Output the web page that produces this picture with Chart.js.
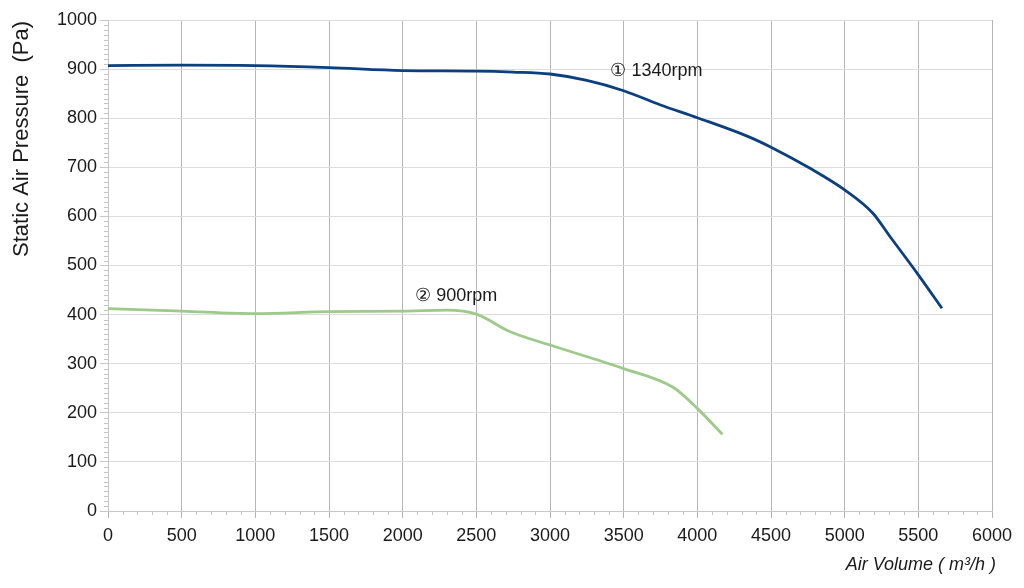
<!DOCTYPE html>
<html>
<head>
<meta charset="utf-8">
<script src="https://cdn.jsdelivr.net/npm/chart.js@4"></script>
<style>
  html, body { margin: 0; padding: 0; background: #fff; }
  #wrap { width: 1024px; height: 588px; }
</style>
</head>
<body>
<div id="wrap"><canvas id="fanChart" width="1024" height="588"></canvas></div>
<script>
// =====================
// DATA
// =====================
const xTicks = [0, 500, 1000, 1500, 2000, 2500, 3000, 3500, 4000, 4500, 5000, 5500, 6000];
const yTicks = [0, 100, 200, 300, 400, 500, 600, 700, 800, 900, 1000];

const flow1340 = [0, 500, 1000, 1500, 2000, 2500, 2750, 3000, 3250, 3500, 3750, 4000, 4350, 4500, 4765, 5000, 5190, 5310, 5500, 5660];
const pres1340 = [907, 908, 907, 903, 897, 896, 894, 890, 877, 856, 827, 801, 762, 741, 698, 654, 607, 558, 481, 413];

const flow900 = [0, 500, 1000, 1500, 2000, 2300, 2500, 2730, 3000, 3500, 3835, 4000, 4170];
const pres900 = [412, 407, 402, 406, 407, 409, 401, 365, 338, 290, 252, 209, 156];

const labels = [
  { text: "\u2460 1340rpm", x: 3410, y: 896 },
  { text: "\u2461 900rpm", x: 2085, y: 438 }
];

const FONT = "'Liberation Sans', Arial, sans-serif";

function toPoints(xs, ys) {
  return xs.map((x, i) => ({ x: x, y: ys[i] }));
}

// =====================
// EXTRAS: minor ticks, curve labels, axis titles
// =====================
const extras = {
  id: "extras",
  afterDraw(chart) {
    const ctx = chart.ctx;
    const xs = chart.scales.x;
    const ys = chart.scales.y;
    const area = chart.chartArea;

    ctx.save();
    ctx.strokeStyle = "#c4c4c4";
    ctx.lineWidth = 1;
    // x minor ticks every 100
    for (let v = 100; v < 6000; v += 100) {
      if (v % 500 === 0) continue;
      const px = Math.round(xs.getPixelForValue(v)) + 0.5;
      ctx.beginPath();
      ctx.moveTo(px, area.bottom);
      ctx.lineTo(px, area.bottom + 4);
      ctx.stroke();
    }
    // y minor ticks every 10
    for (let v = 10; v < 1000; v += 10) {
      if (v % 100 === 0) continue;
      const py = Math.round(ys.getPixelForValue(v)) + 0.5;
      ctx.beginPath();
      ctx.moveTo(area.left - 4, py);
      ctx.lineTo(area.left, py);
      ctx.stroke();
    }

    // curve labels
    ctx.fillStyle = "#1a1a1a";
    ctx.font = "18px " + FONT;
    ctx.textBaseline = "middle";
    ctx.textAlign = "left";
    labels.forEach(l => {
      ctx.fillText(l.text, xs.getPixelForValue(l.x), ys.getPixelForValue(l.y));
    });

    // y title
    ctx.save();
    ctx.translate(22, 139);
    ctx.rotate(-Math.PI / 2);
    ctx.textAlign = "center";
    ctx.font = "22px " + FONT;
    ctx.fillText("Static Air Pressure  (Pa)", 0, 0);
    ctx.restore();

    // x title
    ctx.textAlign = "right";
    ctx.font = "italic 18px " + FONT;
    ctx.fillText("Air Volume ( m\u00b3/h )", 996, 565);
    ctx.restore();
  }
};

// =====================
// CHART
// =====================
new Chart(document.getElementById("fanChart"), {
  type: "line",
  data: {
    datasets: [
      {
        label: "1340rpm",
        data: toPoints(flow1340, pres1340),
        borderColor: "#0c3f7f",
        borderWidth: 2.8,
        pointRadius: 0,
        cubicInterpolationMode: "monotone",
        fill: false
      },
      {
        label: "900rpm",
        data: toPoints(flow900, pres900),
        borderColor: "#9dca8a",
        borderWidth: 2.8,
        pointRadius: 0,
        cubicInterpolationMode: "monotone",
        fill: false
      }
    ]
  },
  options: {
    responsive: false,
    animation: false,
    devicePixelRatio: 1,
    layout: { padding: { left: 0, right: 32, top: 20, bottom: 0 } },
    plugins: {
      legend: { display: false },
      tooltip: { enabled: false }
    },
    scales: {
      x: {
        type: "linear",
        min: xTicks[0],
        max: xTicks[xTicks.length - 1],
        afterBuildTicks: s => { s.ticks = xTicks.map(v => ({ value: v })); },
        afterFit: s => { s.height = 77; },
        grid: { color: "#b5b5b5", tickColor: "#b5b5b5", tickLength: 7 },
        border: { color: "#c8c8c8" },
        ticks: { color: "#1a1a1a", font: { size: 18, family: FONT }, padding: 7, maxRotation: 0, callback: v => String(v) }
      },
      y: {
        min: yTicks[0],
        max: yTicks[yTicks.length - 1],
        afterBuildTicks: s => { s.ticks = yTicks.map(v => ({ value: v })); },
        afterFit: s => { s.width = 108; },
        grid: { color: "#dcdcdc", tickColor: "#c8c8c8", tickLength: 8 },
        border: { color: "#c8c8c8" },
        ticks: { color: "#1a1a1a", font: { size: 18, family: FONT }, padding: 3, callback: v => String(v) }
      }
    }
  },
  plugins: [extras]
});
</script>
</body>
</html>
